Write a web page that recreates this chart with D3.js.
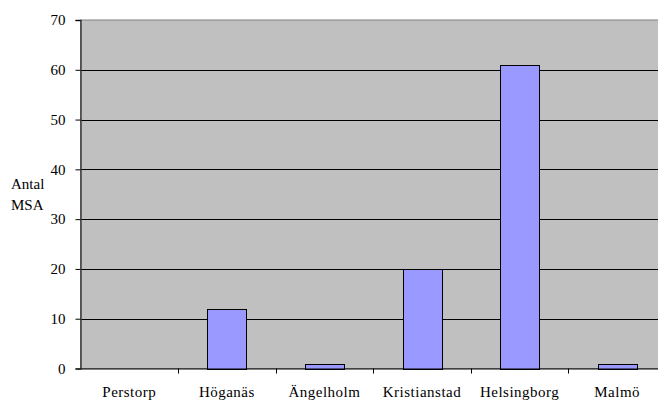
<!DOCTYPE html>
<html>
<head>
<meta charset="utf-8">
<script src="https://cdn.jsdelivr.net/npm/d3@7"></script>
<style>
  html, body { margin: 0; padding: 0; background: #ffffff; }
  svg { display: block; }
  text { font-family: "Liberation Serif", "Times New Roman", serif; fill: #000; }
</style>
</head>
<body>
<svg id="chart" width="658" height="400"></svg>
<script>
// Number of MSA per municipality
const categories = ["Perstorp", "Höganäs", "Ängelholm", "Kristianstad", "Helsingborg", "Malmö"];
const values = [0, 12, 1, 20, 61, 1];
const yTicks = [0, 10, 20, 30, 40, 50, 60, 70];
const yTitle = ["Antal", "MSA"];

const svg = d3.select("#chart");
const W = 658, H = 400;
const plot = { left: 80.5, top: 20, right: 666, bottom: 368.5 };
const serif = "'Liberation Serif', 'Times New Roman', serif";

const x = d3.scaleBand()
  .domain(categories)
  .range([plot.left, plot.right])
  .paddingInner(0.6)
  .paddingOuter(0.3);

const xCat = d3.scaleBand()
  .domain(categories)
  .range([plot.left, plot.right]);

const y = d3.scaleLinear().domain([0, 70]).range([plot.bottom, plot.top]);

svg.append("defs").append("clipPath").attr("id", "clipView")
  .append("rect").attr("x", 0).attr("y", 0).attr("width", W).attr("height", H);

const g = svg.append("g").attr("clip-path", "url(#clipView)");

// plot background
g.append("rect")
  .attr("x", plot.left).attr("y", plot.top)
  .attr("width", plot.right - plot.left).attr("height", plot.bottom - plot.top)
  .attr("fill", "#c0c0c0")
  .attr("stroke", "#808080").attr("stroke-width", 1);

// horizontal gridlines
g.append("g").selectAll("line")
  .data(yTicks.filter(d => d > 0 && d < 70))
  .join("line")
  .attr("x1", plot.left).attr("x2", plot.right)
  .attr("y1", d => Math.round(y(d)) + 0.5).attr("y2", d => Math.round(y(d)) + 0.5)
  .attr("stroke", "#000").attr("stroke-width", 1);

// bars
g.append("g").selectAll("rect")
  .data(categories.map((c, i) => ({ c, v: values[i] })))
  .join("rect")
  .attr("x", d => Math.round(x(d.c)) + 0.5)
  .attr("y", d => Math.round(y(d.v)) + 0.5)
  .attr("width", d => Math.round(x.bandwidth()))
  .attr("height", d => Math.round(y(0)) - Math.round(y(d.v)))
  .attr("fill", "#9999ff")
  .attr("stroke", "#000").attr("stroke-width", 1)
  .attr("display", d => d.v > 0 ? null : "none");

// y axis
const yAxis = d3.axisLeft(y).tickValues(yTicks).tickSize(5).tickPadding(10);
const ya = g.append("g")
  .attr("transform", `translate(${plot.left},0)`)
  .call(yAxis);
ya.select(".domain").attr("stroke", "#404040").attr("stroke-width", 1.5);
ya.selectAll(".tick line").attr("stroke", "#000");
ya.selectAll(".tick text")
  .style("font-family", serif)
  .style("font-size", "15px");

// x axis
const xAxis = d3.axisBottom(xCat).tickSize(0);
const xa = g.append("g")
  .attr("transform", `translate(0,${plot.bottom})`)
  .call(xAxis);
xa.select(".domain").attr("stroke", "#000").attr("stroke-width", 1).attr("d", `M${plot.left},0.5H${plot.right}`);
xa.selectAll(".tick text")
  .attr("y", 28.5)
  .attr("dy", 0)
  .style("font-family", serif)
  .style("font-size", "15px")
  .style("letter-spacing", "0.5px");

// category separator ticks
g.append("g").selectAll("line")
  .data(categories.slice(1).concat(["__end"]))
  .join("line")
  .attr("x1", (d, i) => Math.round(plot.left + (i + 1) * xCat.bandwidth()) + 0.5)
  .attr("x2", (d, i) => Math.round(plot.left + (i + 1) * xCat.bandwidth()) + 0.5)
  .attr("y1", plot.bottom).attr("y2", plot.bottom + 5)
  .attr("stroke", "#000").attr("stroke-width", 1);

// y-axis title
const t = svg.append("text")
  .attr("x", 11).attr("y", 189)
  .style("font-size", "15px");
t.selectAll("tspan").data(yTitle).join("tspan")
  .attr("x", 11)
  .attr("dy", (d, i) => i === 0 ? 0 : 21)
  .text(d => d);
</script>
</body>
</html>
